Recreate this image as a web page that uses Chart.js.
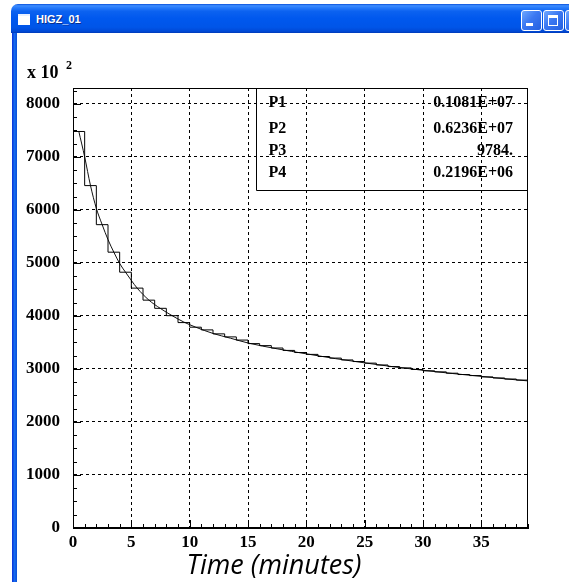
<!DOCTYPE html>
<html>
<head>
<meta charset="utf-8">
<script src="https://cdn.jsdelivr.net/npm/chart.js@4/dist/chart.umd.min.js"></script>
<style>
  html, body { margin: 0; padding: 0; background: #fff; }
  body { width: 569px; height: 582px; overflow: hidden; position: relative; }
  #c { position: absolute; left: 0; top: 0; }
  #titlebar {
    position: absolute; left: 11px; top: 4px; width: 570px; height: 29px;
    border-top-left-radius: 7px;
    background: linear-gradient(to bottom, #0A4FD8 0%, #3D8EFF 6%, #2A7DFB 12%, #0C62F0 25%, #0058EE 50%, #0055E8 80%, #0049D6 94%, #003AB8 100%);
    z-index: 2;
  }
  #titlebar .icon {
    position: absolute; left: 7px; top: 10px; width: 12px; height: 9px;
    background: #fff; border-top: 2px solid #e8f0ff;
  }
  #titlebar .text {
    position: absolute; left: 25px; top: 9px;
    font: bold 11px "Liberation Sans", Arial, sans-serif; color: #fff;
    text-shadow: 1px 1px 0 #0A2D8C;
  }
  .btn {
    position: absolute; top: 6px; width: 19px; height: 19px;
    border: 1px solid #fff; border-radius: 3px;
    background: linear-gradient(135deg, #6FA8FF 0%, #3B78F2 45%, #2460E0 100%);
  }
  .btn.min::after {
    content: ""; position: absolute; left: 4px; top: 12px; width: 7px; height: 3px; background: #fff;
  }
  .btn.max::after {
    content: ""; position: absolute; left: 4px; top: 4px; width: 8px; height: 7px;
    border: 1px solid #fff; border-top-width: 3px;
  }
  #leftborder {
    position: absolute; left: 12px; top: 33px; width: 5px; height: 560px;
    background: linear-gradient(to right, #0831D9, #166AEE 50%, #0A4FD8);
    z-index: 2;
  }
</style>
</head>
<body>
<div id="titlebar">
  <div class="icon"></div>
  <div class="text">HIGZ_01</div>
  <div class="btn min" style="left:510px"></div>
  <div class="btn max" style="left:532px"></div>
  <div class="btn" style="left:554px"></div>
</div>
<div id="leftborder"></div>
<canvas id="c" width="569" height="582"></canvas>
<script>
// Counts per 1-minute bin (units of 10^2), bins start at 0, 1, ..., 38 minutes
const binStarts = [0,1,2,3,4,5,6,7,8,9,10,11,12,13,14,15,16,17,18,19,20,21,22,23,24,25,26,27,28,29,30,31,32,33,34,35,36,37,38];
const binCounts = [7480,6459,5722,5203,4825,4525,4298,4144,4005,3875,3788,3737,3662,3605,3545,3478,3440,3395,3350,3310,3275,3235,3205,3170,3140,3110,3075,3045,3020,2990,2965,2945,2920,2895,2875,2850,2830,2810,2790];

// Fitted curve sampled along the time axis
const fitTimes  = [0.5,1,1.5,2,2.5,3,3.5,4,4.5,5,5.5,6.5,7.5,8.5,9.5,10.5,12,13.5,15,17.5,20,22.5,25,27.5,30,32.5,35,37,39];
const fitValues = [7480,7000,6459,6030,5722,5440,5203,4990,4825,4670,4525,4300,4140,4005,3885,3790,3670,3580,3490,3380,3285,3195,3115,3040,2975,2915,2860,2815,2775];

// Fit parameters
const paramNames  = ['P1','P2','P3','P4'];
const paramValues = ['0.1081E+07','0.6236E+07','9784.','0.2196E+06'];

const xTicks = [0,5,10,15,20,25,30,35];
const yTicks = [0,1000,2000,3000,4000,5000,6000,7000,8000];

const X_MAX = 39, Y_MAX = 8300;
const SERIF = '"Liberation Serif", "Times New Roman", serif';

const histPoints = binStarts.map((t, i) => ({ x: t, y: binCounts[i] }));
histPoints.push({ x: binStarts[binStarts.length - 1] + 1, y: binCounts[binCounts.length - 1] });
const fitPoints = fitTimes.map((t, i) => ({ x: t, y: fitValues[i] }));

const decor = {
  id: 'decor',
  afterDraw(chart) {
    const { ctx, chartArea: a, scales: { x, y } } = chart;
    ctx.save();
    ctx.strokeStyle = '#000';
    ctx.fillStyle = '#000';
    ctx.lineWidth = 1;
    ctx.setLineDash([]);

    // frame
    ctx.strokeRect(Math.round(a.left) + 0.5, Math.round(a.top) + 0.5,
                   Math.round(a.right - a.left) - 1, Math.round(a.bottom - a.top) - 1);

    // inward ticks on the left axis, every 250
    ctx.beginPath();
    for (let v = 0; v <= Y_MAX; v += 250) {
      const py = Math.round(y.getPixelForValue(v)) + 0.5;
      const len = v % 1000 === 0 ? 8 : 4;
      ctx.moveTo(a.left, py); ctx.lineTo(a.left + len, py);
    }
    // inward ticks on the bottom axis, every minute
    for (let t = 0; t <= X_MAX; t += 1) {
      const px = Math.round(x.getPixelForValue(t)) + 0.5;
      const len = t % 5 === 0 ? 8 : 4;
      ctx.moveTo(px, a.bottom); ctx.lineTo(px, a.bottom - len);
    }
    ctx.stroke();

    // fit-parameter box in the upper right corner
    const bx = Math.round(a.left + 0.402 * (a.right - a.left)) + 0.5;
    const by = Math.round(a.top + 0.2315 * (a.bottom - a.top)) + 0.5;
    ctx.beginPath();
    ctx.moveTo(bx, a.top); ctx.lineTo(bx, by); ctx.lineTo(a.right, by);
    ctx.stroke();

    ctx.font = 'bold 16px ' + SERIF;
    ctx.textBaseline = 'middle';
    const rowY = [103, 129, 151, 173];
    paramNames.forEach((n, i) => {
      ctx.textAlign = 'left';
      ctx.fillText(n, bx + 12, rowY[i]);
      ctx.textAlign = 'right';
      ctx.fillText(paramValues[i], a.right - 15, rowY[i]);
    });

    // scale factor label above the y axis
    ctx.textAlign = 'left';
    ctx.textBaseline = 'alphabetic';
    ctx.font = 'bold 18px ' + SERIF;
    ctx.fillText('x 10', 27, 78);
    ctx.font = 'bold 12px ' + SERIF;
    ctx.fillText('2', 66, 69);

    // x axis title
    ctx.font = 'italic 27px "Open Sans", sans-serif';
    ctx.textAlign = 'center';
    ctx.textBaseline = 'alphabetic';
    ctx.fillText('Time (minutes)', 274, 574);
    ctx.restore();
  }
};

const tickFont = { family: SERIF, size: 17, weight: 'bold' };
const plainLabel = v => String(v);

new Chart(document.getElementById('c'), {
  type: 'line',
  data: {
    datasets: [
      {
        label: 'counts',
        data: histPoints,
        stepped: true,
        borderColor: '#000',
        borderWidth: 1,
        pointRadius: 0,
        fill: false
      },
      {
        label: 'fit',
        data: fitPoints,
        cubicInterpolationMode: 'monotone',
        borderColor: '#111',
        borderWidth: 1,
        pointRadius: 0,
        fill: false
      }
    ]
  },
  options: {
    responsive: false,
    animation: false,
    devicePixelRatio: 1,
    layout: { padding: { top: 88, right: 41, left: 0, bottom: 0 } },
    plugins: { legend: { display: false }, tooltip: { enabled: false } },
    scales: {
      x: {
        type: 'linear', min: 0, max: X_MAX,
        afterFit: s => { s.height = 54; },
        afterBuildTicks: s => { s.ticks = xTicks.map(v => ({ value: v })); },
        ticks: { font: tickFont, color: '#000', padding: 4, maxRotation: 0, autoSkip: false, callback: plainLabel },
        grid: { color: '#000', lineWidth: 1, drawTicks: false },
        border: { display: true, color: '#000', dash: [3, 3] }
      },
      y: {
        type: 'linear', min: 0, max: Y_MAX,
        afterFit: s => { s.width = 73; },
        afterBuildTicks: s => { s.ticks = yTicks.map(v => ({ value: v })); },
        ticks: { font: tickFont, color: '#000', padding: 13, callback: plainLabel },
        grid: { color: '#000', lineWidth: 1, drawTicks: false },
        border: { display: true, color: '#000', dash: [3, 3] }
      }
    }
  },
  plugins: [decor]
});
</script>
</body>
</html>
